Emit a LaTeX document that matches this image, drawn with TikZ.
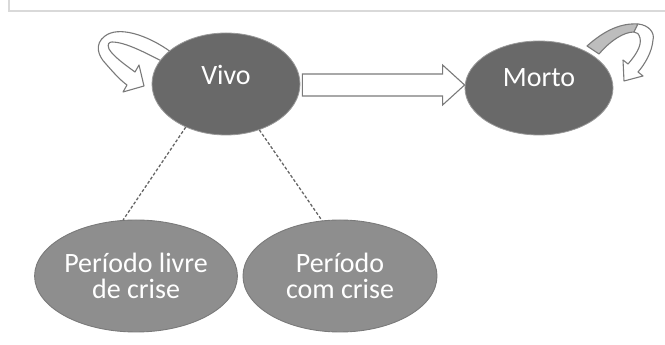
\documentclass[tikz,border=0pt]{standalone}
\usepackage{fontspec}
\setmainfont{Carlito}
\usetikzlibrary{shapes.geometric,calc}
\definecolor{darkfill}{HTML}{696969}
\definecolor{lightfill}{HTML}{8E8E8E}
\definecolor{edgegray}{HTML}{7A7A7A}
\definecolor{dashgray}{HTML}{666666}
\definecolor{bandgray}{HTML}{BDBDBD}
\definecolor{framegray}{HTML}{D9D9D9}
\tikzset{
  state/.style={ellipse, inner sep=0pt, fill=darkfill, draw=gray!80, line width=0.8pt,
    text=white, font=\fontsize{28}{26}\selectfont, align=center},
  substate/.style={ellipse, inner sep=0pt, fill=lightfill, draw=edgegray, line width=0.9pt,
    text=white, font=\fontsize{28}{26}\selectfont, align=center},
  dashlink/.style={draw=dashgray, line width=1.3pt, dash pattern=on 3pt off 2pt},
  blockarrow/.style={draw=edgegray, fill=white, line width=1.1pt, line join=miter},
  loopband/.style={draw=edgegray, fill=white, line width=1.1pt, line join=round},
  grayband/.style={draw=edgegray, fill=bandgray, line width=1.1pt, line join=round},
  framel/.style={draw=framegray, line width=1.6pt}
}
\begin{document}
\begin{tikzpicture}[x=1pt,y=1pt]
\useasboundingbox (0,0) rectangle (665,345);
\draw[framel] (9,345) -- (9,334) -- (665,334);
\coordinate (vivoc) at (226,261);
\coordinate (mortoc) at (539,257);
% self loop of Vivo
\begin{scope}[shift={(vivoc)}]
\draw[loopband] (-55,32) .. controls (-80,50) and (-108,58) .. (-121,48)
  .. controls (-132,40) and (-128,28) .. (-120,20)
  .. controls (-113,12) and (-106,4) .. (-99,-1)
  -- (-103,-8) -- (-82,-2) -- (-87,19) -- (-91,12)
  .. controls (-102,20) and (-113,28) .. (-117,35)
  .. controls (-119,40) and (-117,42) .. (-114,42)
  .. controls (-100,42) and (-78,30) .. (-55,18) -- cycle;
\end{scope}
% self loop of Morto
\begin{scope}[shift={(mortoc)}]
\draw[grayband] (48,42) .. controls (66,58) and (82,65) .. (99,64)
  -- (95,56) .. controls (85,56) and (72,48) .. (60,34) -- cycle;
\draw[loopband] (99,64) .. controls (110,63) and (116,55) .. (114,48)
  .. controls (113,36) and (106,24) .. (99,16)
  -- (104,12) -- (85,7) -- (84,28) -- (89,24)
  .. controls (96,32) and (103,42) .. (101,50)
  .. controls (100,54) and (98,56) .. (95,56) -- cycle;
\end{scope}
\node[state, minimum width=148pt, minimum height=102pt, text height=18pt, text depth=16pt] (vivo) at (vivoc) {Vivo};
\node[state, minimum width=148pt, minimum height=94pt, text height=18pt, text depth=21pt] (morto) at (mortoc) {Morto};
\node[substate, minimum width=202pt, minimum height=112pt] (livre) at (136,69) {Período livre\\de crise};
\node[substate, minimum width=194pt, minimum height=112pt] (crise) at (340,69) {Período\\com crise};
\draw[blockarrow] let \p1=(vivo.east), \p2=(morto.west) in
  (\x1+2pt,271pt) -- (\x2-22pt,271pt) -- (\x2-22pt,280pt) -- (\x2,260pt)
  -- (\x2-22pt,240pt) -- (\x2-22pt,249pt) -- (\x1+2pt,249pt) -- cycle;
\draw[dashlink] (vivo.227) -- (livre.103);
\draw[dashlink] (vivo.306) -- (crise.108);
\end{tikzpicture}
\end{document}
